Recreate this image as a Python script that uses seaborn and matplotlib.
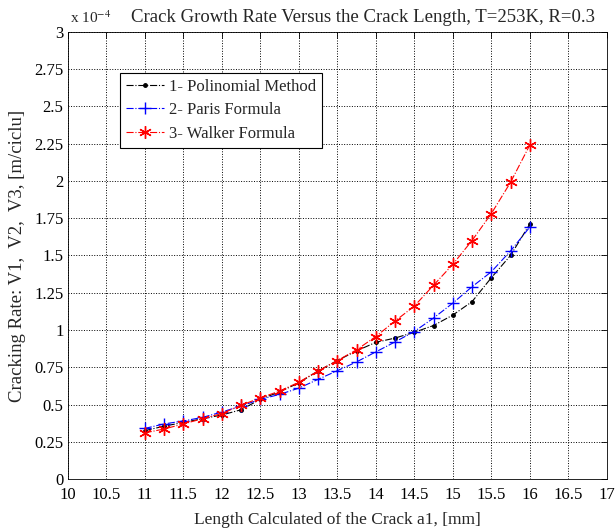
import matplotlib
matplotlib.use("Agg")
import matplotlib.pyplot as plt
import pandas as pd
import seaborn as sns

# crack length a1 [mm]
length = [11.0, 11.25, 11.5, 11.75, 12.0, 12.25, 12.5, 12.75, 13.0, 13.25, 13.5,
          13.75, 14.0, 14.25, 14.5, 14.75, 15.0, 15.25, 15.5, 15.75, 16.0]

# cracking rates, x 1e-4 m/ciclu
v_poly = [0.325, 0.355, 0.38, 0.405, 0.43, 0.465, 0.535, 0.585, 0.645, 0.725, 0.795,
          0.86, 0.917, 0.946, 0.985, 1.03, 1.10, 1.19, 1.35, 1.50, 1.71]
v_paris = [0.34, 0.37, 0.39, 0.414, 0.45, 0.49, 0.535, 0.568, 0.61, 0.669, 0.727,
           0.786, 0.853, 0.92, 0.99, 1.08, 1.18, 1.29, 1.39, 1.53, 1.69]
v_walker = [0.31, 0.336, 0.37, 0.405, 0.44, 0.495, 0.545, 0.59, 0.65, 0.725, 0.795,
            0.867, 0.956, 1.06, 1.16, 1.30, 1.44, 1.60, 1.78, 1.99, 2.24]

labels = ["1- Polinomial Method", "2- Paris Formula", "3- Walker Formula"]

sns.set_style("white")
plt.rcParams["font.family"] = ["Liberation Serif", "DejaVu Serif"]
plt.rcParams["mathtext.fontset"] = "stix"

fig = plt.figure(figsize=(6.16, 5.30), dpi=100)
ax = fig.add_axes([0.110, 0.096, 0.875, 0.844])

series = [
    (v_poly, "black", ".", 5),
    (v_paris, "#0000ff", "+", 9),
    (v_walker, "#ff0000", (6, 2, 0), 9),
]
for (vals, col, mk, ms), lab in zip(series, labels):
    df = pd.DataFrame({"a1": length, "v": vals})
    sns.lineplot(data=df, x="a1", y="v", ax=ax, color=col, marker=mk,
                 markersize=ms, linestyle="-.", linewidth=0.8, label=lab,
                 markeredgecolor=col, markeredgewidth=1.0)

ax.set_xlim(10, 17)
ax.set_ylim(0, 3)
ax.set_xticks([10 + 0.5 * i for i in range(15)])
ax.set_xticklabels(["10", "10.5", "11", "11.5", "12", "12.5", "13", "13.5", "14",
                    "14.5", "15", "15.5", "16", "16.5", "17"])
ax.set_yticks([0.25 * i for i in range(13)])
ax.set_yticklabels(["0", "0.25", "0.5", "0.75", "1", "1.25", "1.5", "1.75", "2",
                    "2.25", "2.5", "2.75", "3"])
ax.tick_params(direction="in", top=True, right=True, labelsize=12, length=4,
               width=0.6, colors="black", pad=3)
ax.tick_params(axis="x", pad=6)
ax.grid(True, linestyle=":", color="black", linewidth=0.7)
for s in ax.spines.values():
    s.set_color("black")
    s.set_linewidth(0.6)

ax.set_xlabel("Length Calculated of the Crack a1, [mm]", fontsize=12.5, labelpad=6)
ax.set_ylabel("Cracking Rate: V1,  V2,  V3, [m/ciclu]", fontsize=13.5, labelpad=6)
ax.set_title("Crack Growth Rate Versus the Crack Length, T=253K, R=0.3",
             fontsize=13.5, loc="center", x=0.548, pad=7)
ax.text(0.005, 1.012, r"x 10$^{-4}$", transform=ax.transAxes, fontsize=11,
        ha="left", va="bottom")

leg = ax.legend(loc="upper left", bbox_to_anchor=(0.0965, 0.908), fontsize=12,
                frameon=True, fancybox=False, framealpha=1, edgecolor="black",
                handlelength=2.3, handletextpad=0.3, borderpad=0.35,
                labelspacing=0.45, borderaxespad=0)
leg.get_frame().set_linewidth(0.8)

fig.savefig("out.png", dpi=100)
